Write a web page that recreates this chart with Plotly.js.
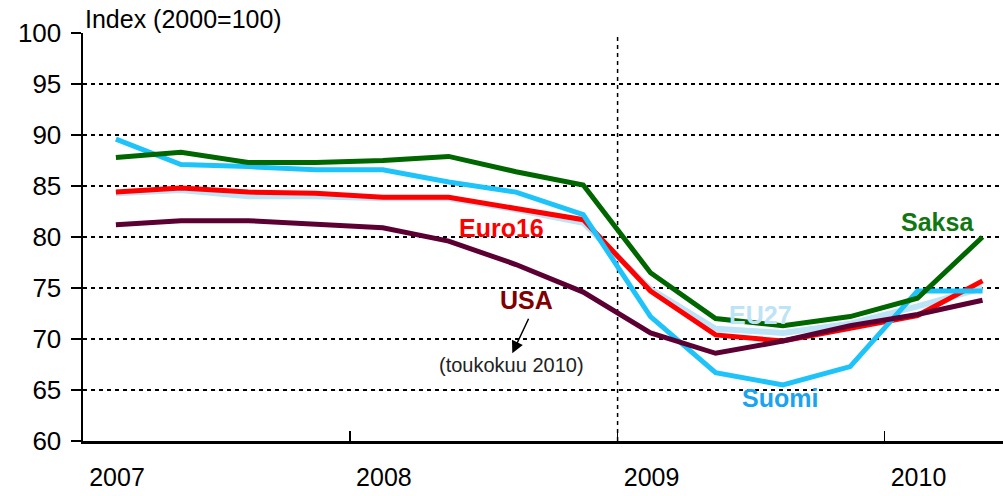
<!DOCTYPE html>
<html>
<head>
<meta charset="utf-8">
<script src="https://cdn.plot.ly/plotly-3.0.1.min.js"></script>
<style>html,body{margin:0;padding:0;background:#fff;}#chart{width:1003px;height:496px;}</style>
</head>
<body>
<div id="chart"></div>
<script>
// Quarterly observations (mid-quarter dates)
const dates = ['2007-02-15','2007-05-15','2007-08-15','2007-11-15',
               '2008-02-15','2008-05-15','2008-08-15','2008-11-15',
               '2009-02-15','2009-05-15','2009-08-15','2009-11-15',
               '2010-02-15','2010-05-15'];
const saksa  = [87.8, 88.3, 87.3, 87.3, 87.5, 87.9, 86.4, 85.1, 76.5, 72.0, 71.3, 72.2, 74.0, 80.0];
const suomi  = [89.6, 87.1, 86.9, 86.6, 86.6, 85.4, 84.4, 82.2, 72.2, 66.7, 65.5, 67.3, 74.7, 74.7];
const euro16 = [84.4, 84.8, 84.4, 84.3, 83.9, 83.9, 82.8, 81.7, 74.7, 70.4, 69.8, 71.0, 72.3, 75.7];
const eu27   = [84.3, 84.6, 84.0, 84.0, 83.8, 83.8, 82.7, 81.4, 74.9, 71.0, 70.6, 71.5, 73.2, 75.0];
const usa    = [81.2, 81.6, 81.6, 81.2, 80.9, 79.6, 77.3, 74.6, 70.6, 68.6, 69.8, 71.3, 72.4, 73.8];

const yearTicks = ['2007-01-01','2008-01-01','2009-01-01','2010-01-01'];
const yearLabels = ['2007','2008','2009','2010'];
const yTicks = [60,65,70,75,80,85,90,95,100];

const FONT = 'Liberation Sans, Arial, sans-serif';

function line(name, y, color, width) {
  return {x: dates, y: y, name: name, type: 'scatter', mode: 'lines',
          line: {color: color, width: width}, hoverinfo: 'skip'};
}

const data = [
  line('EU27', eu27, '#BDE3F6', 6),
  line('Euro16', euro16, '#FF0000', 5),
  line('Suomi', suomi, '#1EC3FA', 5),
  line('Saksa', saksa, '#006600', 5),
  line('USA', usa, '#5C0033', 5)
];

function lab(text, x, y, color, size, bold) {
  return {x: x, y: y, xref: 'x', yref: 'y', text: bold ? '<b>' + text + '</b>' : text,
          showarrow: false, font: {family: FONT, size: size, color: color},
          xanchor: 'center', yanchor: 'middle'};
}

const layout = {
  width: 1003, height: 496,
  margin: {l: 83, r: 0, t: 33, b: 55},
  paper_bgcolor: '#fff', plot_bgcolor: '#fff',
  showlegend: false,
  font: {family: FONT, color: '#000'},
  xaxis: {
    type: 'date',
    range: ['2007-01-01', '2010-06-12'],
    tickvals: yearTicks, ticktext: yearLabels,
    ticks: 'inside', ticklen: 10, tickwidth: 1.5, tickcolor: '#000',
    ticklabelshift: 34, ticklabelstandoff: 12,
    tickfont: {family: FONT, size: 25, color: '#000'},
    showgrid: false, zeroline: false,
    showline: true, linecolor: '#000', linewidth: 3
  },
  yaxis: {
    range: [60, 100],
    tickvals: yTicks,
    ticks: 'outside', ticklen: 10, tickwidth: 1.5, tickcolor: '#000',
    ticklabelstandoff: 4,
    tickfont: {family: FONT, size: 26, color: '#000'},
    showgrid: true, gridcolor: '#000', gridwidth: 1.5, griddash: '4px,4px',
    zeroline: false,
    showline: true, linecolor: '#000', linewidth: 2.5
  },
  shapes: [
    {type: 'line', xref: 'x', yref: 'paper', x0: '2009-01-01', x1: '2009-01-01', y0: 0, y1: 1,
     line: {color: '#000', width: 1.5, dash: '4px,4px'}, layer: 'below'}
  ],
  annotations: [
    {xref: 'paper', yref: 'paper', x: 0, y: 1, xanchor: 'left', yanchor: 'bottom', yshift: -2,
     text: 'Index (2000=100)', showarrow: false, font: {family: FONT, size: 25, color: '#000'}},
    lab('Saksa', '2010-03-14', 81.5, '#117711', 25, true),
    lab('Euro16', '2008-07-26', 80.9, '#FF0000', 25, true),
    lab('USA', '2008-08-29', 73.8, '#800000', 25, true),
    lab('EU27', '2009-07-15', 72.4, '#BDE3F6', 25, true),
    lab('Suomi', '2009-08-11', 64.2, '#1AA3EE', 25, true),
    lab('(toukokuu 2010)', '2008-08-09', 67.45, '#222', 20, false),
    {x: '2008-08-10', y: 68.6, xref: 'x', yref: 'y', text: '', showarrow: true,
     ax: 17, ay: -36, arrowhead: 2, arrowsize: 1.6, arrowwidth: 1.5, arrowcolor: '#000'}
  ]
};

Plotly.newPlot('chart', data, layout, {displayModeBar: false, staticPlot: true});
</script>
</body>
</html>
